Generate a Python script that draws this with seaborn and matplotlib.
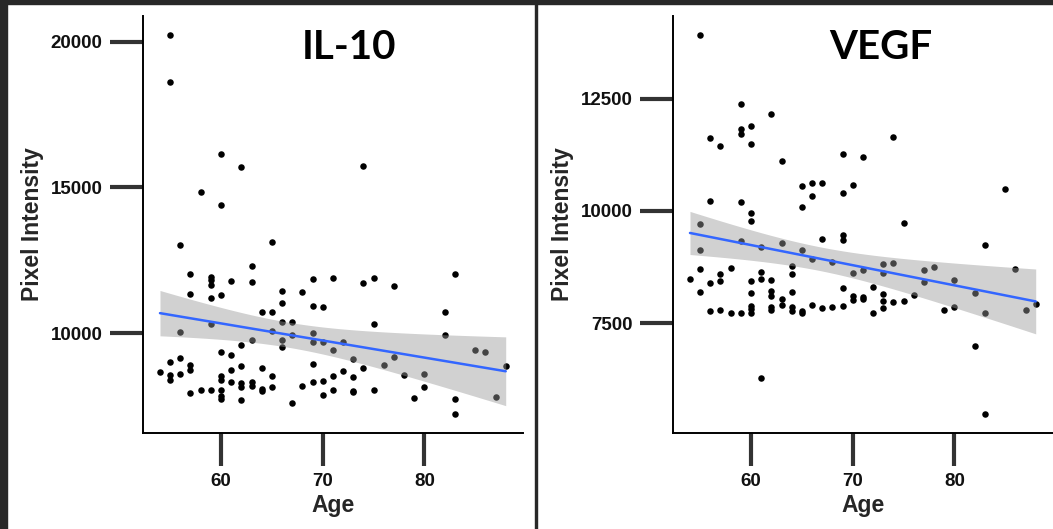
import numpy as np
import pandas as pd
import seaborn as sns
import matplotlib
matplotlib.use("Agg")
import matplotlib.pyplot as plt
from matplotlib.patches import Rectangle

# values
il10_age = [54,
            55, 55, 55, 55, 55,
            56, 56, 56, 56,
            57, 57, 57, 57, 57,
            58, 58,
            59, 59, 59, 59, 59, 59,
            60, 60, 60, 60, 60, 60, 60, 60, 60,
            61, 61, 61, 61,
            62, 62, 62, 62, 62, 62,
            63, 63, 63, 63, 63,
            64, 64, 64, 64,
            65, 65, 65, 65, 65,
            66, 66, 66, 66, 66,
            67, 67, 67,
            68, 68,
            69, 69, 69, 69, 69, 69,
            70, 70, 70, 70,
            71, 71, 71, 71,
            72, 72,
            73, 73, 73, 73,
            74, 74, 74,
            75, 75, 75,
            76,
            77, 77,
            78,
            79,
            80, 80,
            82, 82,
            83, 83, 83,
            85, 86, 87, 88]
il10_val = [8651,
            20230, 18607, 8994, 8571, 8377,
            13006, 10034, 9143, 8606,
            12035, 11337, 8891, 8720, 7943,
            14858, 8034,
            11909, 11829, 11657, 11212, 10320, 8034,
            16138, 14412, 11303, 9348, 8514, 8377, 8034, 7828, 7748,
            11795, 9257, 8743, 8320,
            15692, 9577, 8857, 8285, 8148, 7714,
            12309, 11737, 9749, 8308, 8194,
            10709, 8811, 8080, 8000,
            13132, 10720, 10057, 8537, 8148,
            11440, 11040, 10389, 9771, 9520,
            10389, 9931, 7600,
            11406, 8194,
            11863, 10914, 10000, 9691, 8948, 8331,
            10903, 9703, 8354, 7874,
            11886, 9428, 8537, 8057,
            9703, 8686,
            9120, 8491, 8023, 7965,
            15726, 11715, 8811,
            11886, 10320, 8045,
            8903,
            11600, 9188,
            8548,
            7771,
            8606, 8137,
            10720, 9920,
            12035, 7748, 7223,
            9417, 9360, 7817, 8880]

vegf_age = [54,
            55, 55, 55, 55, 55,
            56, 56, 56, 56,
            57, 57, 57, 57,
            58, 58,
            59, 59, 59, 59, 59, 59,
            60, 60, 60, 60, 60, 60, 60, 60, 60,
            61, 61, 61, 61,
            62, 62, 62, 62, 62, 62,
            63, 63, 63, 63,
            64, 64, 64, 64, 64,
            65, 65, 65, 65, 65,
            66, 66, 66, 66,
            67, 67, 67,
            68, 68,
            69, 69, 69, 69, 69, 69,
            70, 70, 70, 70,
            71, 71, 71, 71,
            72, 72,
            73, 73, 73, 73, 73,
            74, 74, 74,
            75, 75,
            76,
            77, 77,
            78,
            79,
            80, 80,
            82, 82,
            83, 83, 83,
            85, 86, 87, 88]
vegf_val = [8479,
            13917, 9718, 9132, 8694, 8197,
            11632, 10215, 8383, 7775,
            11454, 8598, 8427, 7789,
            8717, 7715,
            12374, 11817, 11706, 10193, 9318, 7723,
            11899, 11491, 9963, 9763, 8427, 8168, 7886, 7812, 7723,
            9191, 8628, 8472, 6269,
            12159, 8457, 8205, 8108, 7856, 7782,
            11113, 9295, 8034, 7893,
            8776, 8583, 8190, 7864, 7775,
            10564, 10096, 9132, 7775, 7715,
            10623, 10326, 8917, 7908,
            10623, 9362, 7841,
            8865, 7864,
            11268, 10393, 9466, 9355, 8279, 7871,
            10586, 8605, 8108, 8019,
            11202, 8672, 8071, 8027,
            8294, 7715,
            8813, 8613, 8153, 7982, 7841,
            11647, 8828, 7975,
            9733, 7997,
            8116,
            8680, 8420,
            8739,
            7797,
            8450, 7849,
            8175, 6996,
            9236, 7715, 5475,
            10497, 8709, 7782, 7923]

panels = ["IL-10", "VEGF"]
yticks = {"IL-10": [10000, 15000, 20000], "VEGF": [7500, 10000, 12500]}
xticks = [60, 70, 80]


def lm_band(x, y, n=80):
    # linear fit with 95% confidence band, like geom_smooth(method="lm")
    x = np.asarray(x, float)
    y = np.asarray(y, float)
    b, a = np.polyfit(x, y, 1)
    xs = np.linspace(x.min(), x.max(), n)
    fit = a + b * xs
    res = y - (a + b * x)
    s = np.sqrt((res ** 2).sum() / (len(x) - 2))
    se = s * np.sqrt(1 / len(x) + (xs - x.mean()) ** 2 / ((x - x.mean()) ** 2).sum())
    return xs, fit, 1.983 * se


sns.set_style("ticks")
plt.rcParams["font.family"] = ["Liberation Sans", "DejaVu Sans"]
plt.rcParams["font.weight"] = "bold"
plt.rcParams["axes.labelweight"] = "bold"

fig = plt.figure(figsize=(10.53, 5.29), dpi=100)
ax1 = fig.add_axes([142.7 / 1053, 96 / 529, 380.3 / 1053, 417 / 529])
ax2 = fig.add_axes([672.7 / 1053, 96 / 529, 380.3 / 1053, 417 / 529])

data = {"IL-10": (il10_age, il10_val), "VEGF": (vegf_age, vegf_val)}
title_x = {"IL-10": 0.542, "VEGF": 0.547}

for ax, name in zip([ax1, ax2], panels):
    ages, vals = data[name]
    d = pd.DataFrame({"Age": ages, "Pixel Intensity": vals})
    sns.scatterplot(data=d, x="Age", y="Pixel Intensity", ax=ax, color="black",
                    s=22, linewidth=0, zorder=2)
    xs, fit, hw = lm_band(d["Age"], d["Pixel Intensity"])
    ax.fill_between(xs, fit - hw, fit + hw, color="#999999", alpha=0.45,
                    linewidth=0, zorder=3)
    sns.lineplot(x=xs, y=fit, ax=ax, color="#3366FF", linewidth=1.8, zorder=4)

    # ggplot style 5% expansion
    xr = d["Age"].max() - d["Age"].min()
    yr = d["Pixel Intensity"].max() - d["Pixel Intensity"].min()
    ax.set_xlim(d["Age"].min() - 0.05 * xr, d["Age"].max() + 0.05 * xr)
    ax.set_ylim(d["Pixel Intensity"].min() - 0.05 * yr,
                d["Pixel Intensity"].max() + 0.05 * yr)
    ax.set_xticks(xticks)
    ax.set_yticks(yticks[name])

    sns.despine(ax=ax)
    for sp in ["left", "bottom"]:
        ax.spines[sp].set_linewidth(1.4)
        ax.spines[sp].set_color("black")
    ax.tick_params(bottom=True, left=True, direction="out", length=24, width=3,
                   color="#333333", labelsize=13.5, pad=5, labelcolor="#111111")
    ax.set_xlabel("Age", fontsize=16.5, labelpad=3)
    ax.set_ylabel("Pixel Intensity", fontsize=16.5, labelpad=5)
    ax.text(title_x[name], 0.897, name, transform=ax.transAxes, ha="center",
            va="baseline", fontsize=29, fontweight="bold", family="Lato",
            color="black")

# dark frame of the screenshot
frame = "#282828"
fig.patches.append(Rectangle((0, 1 - 4 / 529), 1, 4 / 529, transform=fig.transFigure,
                             color=frame, zorder=10))
fig.patches.append(Rectangle((0, 0), 7 / 1053, 1, transform=fig.transFigure,
                             color=frame, zorder=10))
fig.patches.append(Rectangle((535 / 1053, 0), 2 / 1053, 1, transform=fig.transFigure,
                             color=frame, zorder=10))

fig.savefig("out.png", dpi=100)
